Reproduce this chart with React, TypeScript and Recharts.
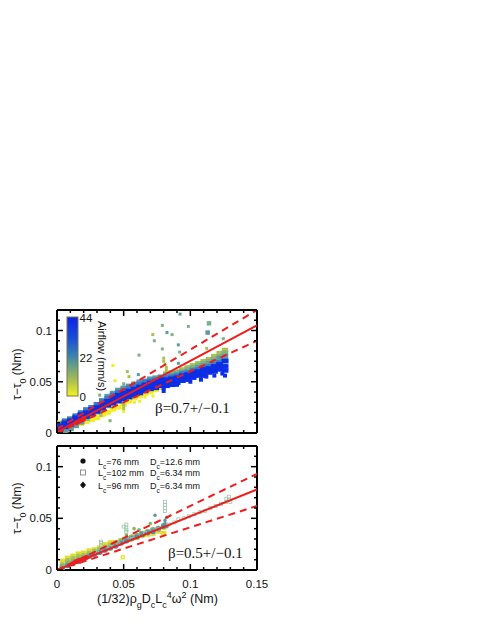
import React from "react";
import { ScatterChart, Scatter, XAxis, YAxis } from "recharts";

const xTicks = [0, 0.01, 0.02, 0.03, 0.04, 0.05, 0.06, 0.07, 0.08, 0.09, 0.1, 0.11, 0.12, 0.13, 0.14, 0.15];
const yTicks = [0, 0.01, 0.02, 0.03, 0.04, 0.05, 0.06, 0.07, 0.08, 0.09, 0.1, 0.11, 0.12];
const xLabels: Record<string, string> = { "0": "0", "0.05": "0.05", "0.1": "0.1", "0.15": "0.15" };
const yLabels: Record<string, string> = { "0": "0", "0.05": "0.05", "0.1": "0.1" };

// top panel: shared x positions, one y list per colour band
const topX = [0.002, 0.006, 0.01, 0.014, 0.018, 0.022, 0.026, 0.03, 0.034, 0.038, 0.042, 0.046, 0.05, 0.054, 0.058, 0.062, 0.066, 0.07, 0.074, 0.078, 0.082, 0.086, 0.09, 0.094, 0.098, 0.102, 0.106, 0.11, 0.114, 0.118, 0.122, 0.126];
const topYellowA = [0.01, 0.012, 0.014, 0.016, 0.017, 0.018, 0.019, 0.021, 0.024, 0.026, 0.028, 0.031, 0.033, 0.035, 0.037, 0.04, 0.042, 0.044, 0.046, 0.048];
const topYellowB = [0.005, 0.006, 0.007, 0.008, 0.009, 0.011, 0.013, 0.015, 0.018, 0.02, 0.023, 0.025, 0.028, 0.031, 0.034, 0.036, 0.038, 0.04, 0.042, 0.044];
const topOlive = [0.002, 0.003, 0.005, 0.008, 0.011, 0.014, 0.017, 0.02, 0.024, 0.027, 0.03, 0.033, 0.036, 0.04, 0.043, 0.045, 0.047, 0.049, 0.051, 0.054, 0.058, 0.059, 0.06, 0.062, 0.064, 0.066, 0.068, 0.07, 0.072, 0.075, 0.078, 0.081];
const topGreen = [0.001, 0.002, 0.004, 0.007, 0.01, 0.014, 0.018, 0.023, 0.029, 0.033, 0.036, 0.039, 0.041, 0.043, 0.045, 0.047, 0.048, 0.05, 0.051, 0.053, 0.057, 0.058, 0.059, 0.06, 0.062, 0.064, 0.066, 0.068, 0.07, 0.072, 0.075, 0.078];
const topTeal = [0.001, 0.002, 0.004, 0.007, 0.011, 0.016, 0.025, 0.028, 0.032, 0.036, 0.039, 0.042, 0.044, 0.046, 0.048, 0.05, 0.051, 0.053, 0.054, 0.055, 0.055, 0.056, 0.057, 0.059, 0.06, 0.062, 0.064, 0.066, 0.068, 0.07, 0.073, 0.075];
const topSteel = [0.009, 0.012, 0.014, 0.017, 0.02, 0.023, 0.025, 0.028, 0.031, 0.034, 0.037, 0.04, 0.042, 0.044, 0.046, 0.048, 0.05, 0.051, 0.052, 0.054, 0.054, 0.055, 0.056, 0.058, 0.059, 0.061, 0.062, 0.064, 0.065, 0.067, 0.069, 0.071];
const topBlueHigh = [0.007, 0.01, 0.012, 0.015, 0.018, 0.02, 0.023, 0.025, 0.028, 0.031, 0.034, 0.037, 0.039, 0.041, 0.043, 0.045, 0.047, 0.049, 0.05, 0.052, 0.052, 0.053, 0.054, 0.056, 0.057, 0.059, 0.06, 0.062, 0.063, 0.065, 0.067, 0.07];
const topBlueMid = [0.005, 0.008, 0.01, 0.013, 0.016, 0.018, 0.021, 0.023, 0.026, 0.029, 0.032, 0.034, 0.036, 0.038, 0.04, 0.042, 0.044, 0.046, 0.047, 0.049, 0.049, 0.05, 0.051, 0.053, 0.054, 0.056, 0.058, 0.059, 0.061, 0.062, 0.064, 0.065];
const topBlueLow = [0.003, 0.006, 0.008, 0.011, 0.014, 0.016, 0.019, 0.021, 0.024, 0.027, 0.029, 0.031, 0.033, 0.035, 0.037, 0.039, 0.041, 0.043, 0.044, 0.046, 0.046, 0.047, 0.049, 0.051, 0.052, 0.054, 0.056, 0.056, 0.059, 0.06, 0.062, 0.061];

// spikes and stray points [x, y]
const topStrayYellow = [[0.042, 0.066], [0.0435, 0.051], [0.0438, 0.03], [0.05, 0.021], [0.058, 0.03], [0.062, 0.031], [0.066, 0.035], [0.072, 0.036], [0.036, 0.018], [0.03, 0.014]];
const topStrayOlive = [[0.0527, 0.06], [0.054, 0.055], [0.05, 0.024], [0.05, 0.027], [0.05, 0.029], [0.033, 0.017], [0.033, 0.02], [0.08, 0.073], [0.08, 0.07], [0.081, 0.067], [0.082, 0.064], [0.082, 0.061], [0.0718, 0.096], [0.1123, 0.0825]];
const topStrayGreen = [[0.079, 0.105], [0.0863, 0.096], [0.073, 0.09], [0.079, 0.082], [0.092, 0.079], [0.0615, 0.076], [0.032, 0.037], [0.0398, 0.012], [0.0985, 0.104], [0.1247, 0.092], [0.05, 0.048], [0.05, 0.045], [0.05, 0.042], [0.033, 0.024], [0.033, 0.027]];
const topStrayTeal = [[0.0923, 0.116], [0.0825, 0.098], [0.091, 0.086], [0.061, 0.057], [0.091, 0.068]];
const topBigGreen = [[0.114, 0.107]];
const topBigTeal = [[0.113, 0.098]];
const topStrayBlue = [[0.08, 0.044], [0.08, 0.041], [0.1, 0.05], [0.108, 0.052], [0.118, 0.056], [0.124, 0.058], [0.126, 0.056], [0.126, 0.065], [0.09, 0.047], [0.112, 0.055]];
const topRed = [[0.0145, 0.01], [0.017, 0.012], [0.02, 0.0145]];

const topFit = [[0, 0.001], [0.15, 0.105]];
const topFitHigh = [[0, 0.004], [0.15, 0.12]];
const topFitLow = [[0, 0], [0.15, 0.09]];

// bottom panel
const lowX = [0.004, 0.008, 0.012, 0.016, 0.02, 0.024, 0.028, 0.032, 0.036, 0.04, 0.044, 0.048, 0.052, 0.056, 0.06, 0.064, 0.068, 0.072, 0.076, 0.08];
const lowYellowA = [0.009, 0.012, 0.014, 0.016, 0.017, 0.019, 0.02, 0.022, 0.025, 0.027, 0.027, 0.029, 0.03, 0.032, 0.033, 0.036, 0.037, 0.039, 0.04, 0.041];
const lowYellowB = [0.002, 0.004, 0.007, 0.009, 0.011, 0.013, 0.015, 0.017, 0.019, 0.021, 0.024, 0.026, 0.028, 0.03, 0.031, 0.033, 0.034, 0.035, 0.037, 0.036];
const lowOlive = [0.005, 0.009, 0.011, 0.013, 0.014, 0.016, 0.018, 0.02, 0.022, 0.024, 0.026, 0.028, 0.03, 0.032, 0.033, 0.034, 0.036, 0.038, 0.04, 0.042];
const lowGreen = [0.003, 0.006, 0.008, 0.01, 0.012, 0.014, 0.016, 0.018, 0.02, 0.022, 0.024, 0.027, 0.029, 0.031, 0.033, 0.035, 0.037, 0.039, 0.04, 0.043];
const lowBlue = [0.001, 0.004, 0.006, 0.008, 0.011, 0.013, 0.015, 0.017, 0.019, 0.021, 0.023, 0.026, 0.028, 0.03, 0.032, 0.034, 0.036, 0.037, 0.04, 0.042];

const lowDotTeal = [[0.0735, 0.053], [0.0825, 0.051], [0.081, 0.048], [0.081, 0.045], [0.0825, 0.042], [0.063, 0.036], [0.055, 0.031]];
const lowDotGreen = [[0.0578, 0.04], [0.0615, 0.039], [0.07, 0.045], [0.052, 0.034]];
const lowSquares = [[0.05, 0.042], [0.052, 0.041], [0.052, 0.039], [0.052, 0.037], [0.052, 0.044], [0.033, 0.0275], [0.033, 0.026], [0.033, 0.024], [0.081, 0.066], [0.081, 0.063], [0.081, 0.06], [0.081, 0.057], [0.084, 0.044], [0.088, 0.046], [0.091, 0.049], [0.095, 0.05], [0.099, 0.052], [0.103, 0.054], [0.107, 0.056], [0.111, 0.057], [0.115, 0.06], [0.119, 0.062], [0.123, 0.064], [0.127, 0.066], [0.129, 0.068], [0.129, 0.071], [0.127, 0.069], [0.13, 0.066], [0.022, 0.012], [0.03, 0.017], [0.04, 0.022], [0.046, 0.026], [0.056, 0.03], [0.066, 0.036], [0.076, 0.04]];
const lowYellowSquare = [[0.0493, 0.0123]];
const lowRed = [[0.014, 0.008], [0.016, 0.009], [0.022, 0.012]];

const lowFit = [[0, 0], [0.15, 0.078]];
const lowFitHigh = [[0, 0], [0.15, 0.093]];
const lowFitLow = [[0, 0], [0.15, 0.062]];

const YELLOW = "#eeee22";
const OLIVE = "#a9c24e";
const GREEN = "#7fb08a";
const TEAL = "#5f9aa0";
const STEEL = "#3b78c9";
const BLUE = "#0c2ee6";
const RED = "#f01c1c";

const zip = (xs: number[], ys: number[]) => ys.map((y, i) => ({ x: xs[i], y }));
const pts = (list: number[][]) => list.map(([x, y]) => ({ x, y }));

const square = (w: number, h: number, fill: string) => (p: any) => (
  <rect x={p.cx - w / 2} y={p.cy - h / 2} width={w} height={h} fill={fill} />
);
const hollow = (size: number, stroke: string, width = 0.8) => (p: any) => (
  <rect x={p.cx - size / 2} y={p.cy - size / 2} width={size} height={size} fill="none" stroke={stroke} strokeWidth={width} />
);
const dot = (r: number, fill: string) => (p: any) => <circle cx={p.cx} cy={p.cy} r={r} fill={fill} />;

const near = (v: number, m: number) => Math.abs(v / m - Math.round(v / m)) < 1e-6;

const XTick = (props: any) => {
  const { x, y, payload, side } = props;
  const len = near(payload.value, 0.05) ? 6 : 3;
  const dir = side === "top" ? 1 : -1;
  return (
    <g>
      <line x1={x} x2={x} y1={y} y2={y + dir * len} stroke="#000" strokeWidth={1.5} />
      {side === "bottom" && (
        <text x={x} y={y + 18} textAnchor="middle" fontSize={11.5} fontFamily="Liberation Sans" fill="#111">
          {xLabels[String(payload.value)]}
        </text>
      )}
    </g>
  );
};

const YTick = (props: any) => {
  const { x, y, payload, side } = props;
  const len = near(payload.value, 0.05) ? 6 : 3;
  const dir = side === "right" ? -1 : 1;
  return (
    <g>
      <line x1={x} x2={x + dir * len} y1={y} y2={y} stroke="#000" strokeWidth={1.5} />
      {side === "left" && (
        <text x={x - 5} y={y + 4} textAnchor="end" fontSize={11.5} fontFamily="Liberation Sans" fill="#111">
          {yLabels[String(payload.value)]}
        </text>
      )}
    </g>
  );
};

const axisLine = { stroke: "#000", strokeWidth: 2 };

const frame = (showX: boolean) => [
  <XAxis key="xb" xAxisId="b" orientation="bottom" type="number" dataKey="x" domain={[0, 0.15]} ticks={xTicks} interval={0} height={1} tickLine={false} tickSize={0} tickMargin={0} axisLine={axisLine} allowDataOverflow tick={<XTick side={showX ? "bottom" : "none"} />} />,
  <XAxis key="xt" xAxisId="t" orientation="top" type="number" dataKey="x" domain={[0, 0.15]} ticks={xTicks} interval={0} height={1} tickLine={false} tickSize={0} tickMargin={0} axisLine={axisLine} allowDataOverflow tick={<XTick side="top" />} />,
  <YAxis key="yl" yAxisId="l" orientation="left" type="number" dataKey="y" domain={[0, 0.12]} ticks={yTicks} interval={0} width={1} tickLine={false} tickSize={0} tickMargin={0} axisLine={axisLine} allowDataOverflow tick={<YTick side="left" />} />,
  <YAxis key="yr" yAxisId="r" orientation="right" type="number" dataKey="y" domain={[0, 0.12]} ticks={yTicks} interval={0} width={1} tickLine={false} tickSize={0} tickMargin={0} axisLine={axisLine} allowDataOverflow tick={<YTick side="right" />} />,
];

const series = (key: string, data: { x: number; y: number }[], shape: any) => (
  <Scatter key={key} xAxisId="b" yAxisId="l" data={data} shape={shape} isAnimationActive={false} />
);

const noMark = () => null;

// fit lines as two-point scatter series so they paint above the clouds
const fitLine = (key: string, s: number[][], dashed: boolean) => (
  <Scatter
    key={key}
    xAxisId="b"
    yAxisId="l"
    data={pts(s)}
    shape={noMark}
    line={{ stroke: RED, strokeWidth: 2, strokeDasharray: dashed ? "7 5" : undefined }}
    isAnimationActive={false}
  />
);

const sub = (t: string, size: number) => (
  <tspan baselineShift="sub" fontSize={size}>
    {t}
  </tspan>
);

const TopChart = () => (
  <div style={{ position: "absolute", left: 0, top: 0 }}>
    <ScatterChart width={485} height={440} margin={{ top: 309, left: 56, right: 227, bottom: 6 }}>
      <defs>
        <linearGradient id="airflow" x1="0" y1="1" x2="0" y2="0">
          <stop offset="0%" stopColor="#f4f41c" />
          <stop offset="20%" stopColor="#a8bd55" />
          <stop offset="40%" stopColor="#5f9a8c" />
          <stop offset="52%" stopColor="#3a7fb0" />
          <stop offset="72%" stopColor="#1d4ed8" />
          <stop offset="100%" stopColor="#0a22e8" />
        </linearGradient>
      </defs>
      {frame(false)}
      {series("ya", zip(topX, topYellowA), square(6.5, 4.5, YELLOW))}
      {series("yb", zip(topX, topYellowB), square(6.5, 4.5, YELLOW))}
      {series("ys", pts(topStrayYellow), square(3, 3, YELLOW))}
      {series("o", zip(topX, topOlive), square(6.5, 4.5, OLIVE))}
      {series("os", pts(topStrayOlive), square(3, 3, OLIVE))}
      {series("g", zip(topX, topGreen), square(6.5, 4.5, GREEN))}
      {series("gs", pts(topStrayGreen), square(3, 3, GREEN))}
      {series("gb", pts(topBigGreen), square(4.5, 4.5, GREEN))}
      {series("t", zip(topX, topTeal), square(6.5, 4.5, TEAL))}
      {series("ts", pts(topStrayTeal), square(3, 3, TEAL))}
      {series("tb", pts(topBigTeal), square(4.5, 4.5, TEAL))}
      {series("st", zip(topX, topSteel), square(6.5, 4.5, STEEL))}
      {series("bh", zip(topX, topBlueHigh), square(7, 4.5, BLUE))}
      {series("bm", zip(topX, topBlueMid), square(7, 4.5, BLUE))}
      {series("bl", zip(topX, topBlueLow), square(7, 4.5, BLUE))}
      {series("bs", pts(topStrayBlue), square(4, 4, BLUE))}
      {fitLine("f", topFit, false)}
      {fitLine("fh", topFitHigh, true)}
      {fitLine("fl", topFitLow, true)}
      {series("r", pts(topRed), dot(2.5, RED))}
      <rect x={67} y={317} width={11} height={79} fill="url(#airflow)" stroke="#77774a" strokeWidth={1} />
      <g fontFamily="Liberation Sans" fontSize={11.5} fill="#111">
        <text x={79.5} y={321.5}>44</text>
        <text x={79.5} y={361.5}>22</text>
        <text x={79.5} y={400.5}>0</text>
      </g>
      <text transform="translate(98,321) rotate(90)" fontFamily="Liberation Sans" fontSize={11} fill="#111">
        Airflow (mm/s)
      </text>
      <text x={155} y={413} fontFamily="Liberation Serif" fontSize={15} fill="#111">
        β=0.7+/−0.1
      </text>
      <text transform="translate(21,400) rotate(-90)" fontFamily="Liberation Sans" fontSize={12} fill="#111">
        τ−τ{sub("0", 9)} (Nm)
      </text>
    </ScatterChart>
  </div>
);

const legendRows = [
  { lc: "76", dc: "12.6", y: 464.5 },
  { lc: "102", dc: "6.34", y: 476 },
  { lc: "96", dc: "6.34", y: 488.5 },
];

const BottomChart = () => (
  <div style={{ position: "absolute", left: 0, top: 0 }}>
    <ScatterChart width={485} height={627} margin={{ top: 445, left: 56, right: 227, bottom: 56 }}>
      {frame(true)}
      {series("lya", zip(lowX, lowYellowA), square(5.5, 4, "#dede30"))}
      {series("lyb", zip(lowX, lowYellowB), square(5.5, 4, "#dede30"))}
      {series("lo", zip(lowX, lowOlive), dot(2.8, OLIVE))}
      {series("lg", zip(lowX, lowGreen), dot(2.8, GREEN))}
      {series("lb", zip(lowX, lowBlue), dot(2.5, "#4a8cc4"))}
      {series("ldg", pts(lowDotGreen), dot(1.8, "#7fb86a"))}
      {series("ldt", pts(lowDotTeal), dot(1.8, TEAL))}
      {series("ls", pts(lowSquares), hollow(3, "#9cc8a8"))}
      {series("lys", pts(lowYellowSquare), hollow(3, "#e4e420", 1.2))}
      {fitLine("lf", lowFit, false)}
      {fitLine("lfh", lowFitHigh, true)}
      {fitLine("lfl", lowFitLow, true)}
      {series("lr", pts(lowRed), dot(2.5, RED))}
      <circle cx={83} cy={461} r={2.6} fill="#111" />
      <rect x={80.5} y={470} width={5} height={5} fill="none" stroke="#777" strokeWidth={0.8} />
      <path d="M83 481.5 L86 485 L83 488.5 L80 485 Z" fill="#111" />
      <g fontFamily="Liberation Sans" fontSize={9} fill="#111">
        {legendRows.map((r) => (
          <g key={r.lc}>
            <text x={98} y={r.y}>
              L{sub("c", 6.5)}={r.lc} mm
            </text>
            <text x={150} y={r.y}>
              D{sub("c", 6.5)}={r.dc} mm
            </text>
          </g>
        ))}
      </g>
      <text x={168} y={558} fontFamily="Liberation Serif" fontSize={15} fill="#111">
        β=0.5+/−0.1
      </text>
      <text transform="translate(21,534) rotate(-90)" fontFamily="Liberation Sans" fontSize={12} fill="#111">
        τ−τ{sub("0", 9)} (Nm)
      </text>
      <text x={97} y={603} fontFamily="Liberation Sans" fontSize={12.5} fill="#111">
        (1/32)ρ{sub("g", 9)}D{sub("c", 9)}L{sub("c", 9)}
        <tspan baselineShift="super" fontSize={9}>4</tspan>ω
        <tspan baselineShift="super" fontSize={9}>2</tspan> (Nm)
      </text>
    </ScatterChart>
  </div>
);

export default function App() {
  return (
    <div style={{ position: "absolute", left: 0, top: 0, width: 485, height: 627 }}>
      <TopChart />
      <BottomChart />
    </div>
  );
}
